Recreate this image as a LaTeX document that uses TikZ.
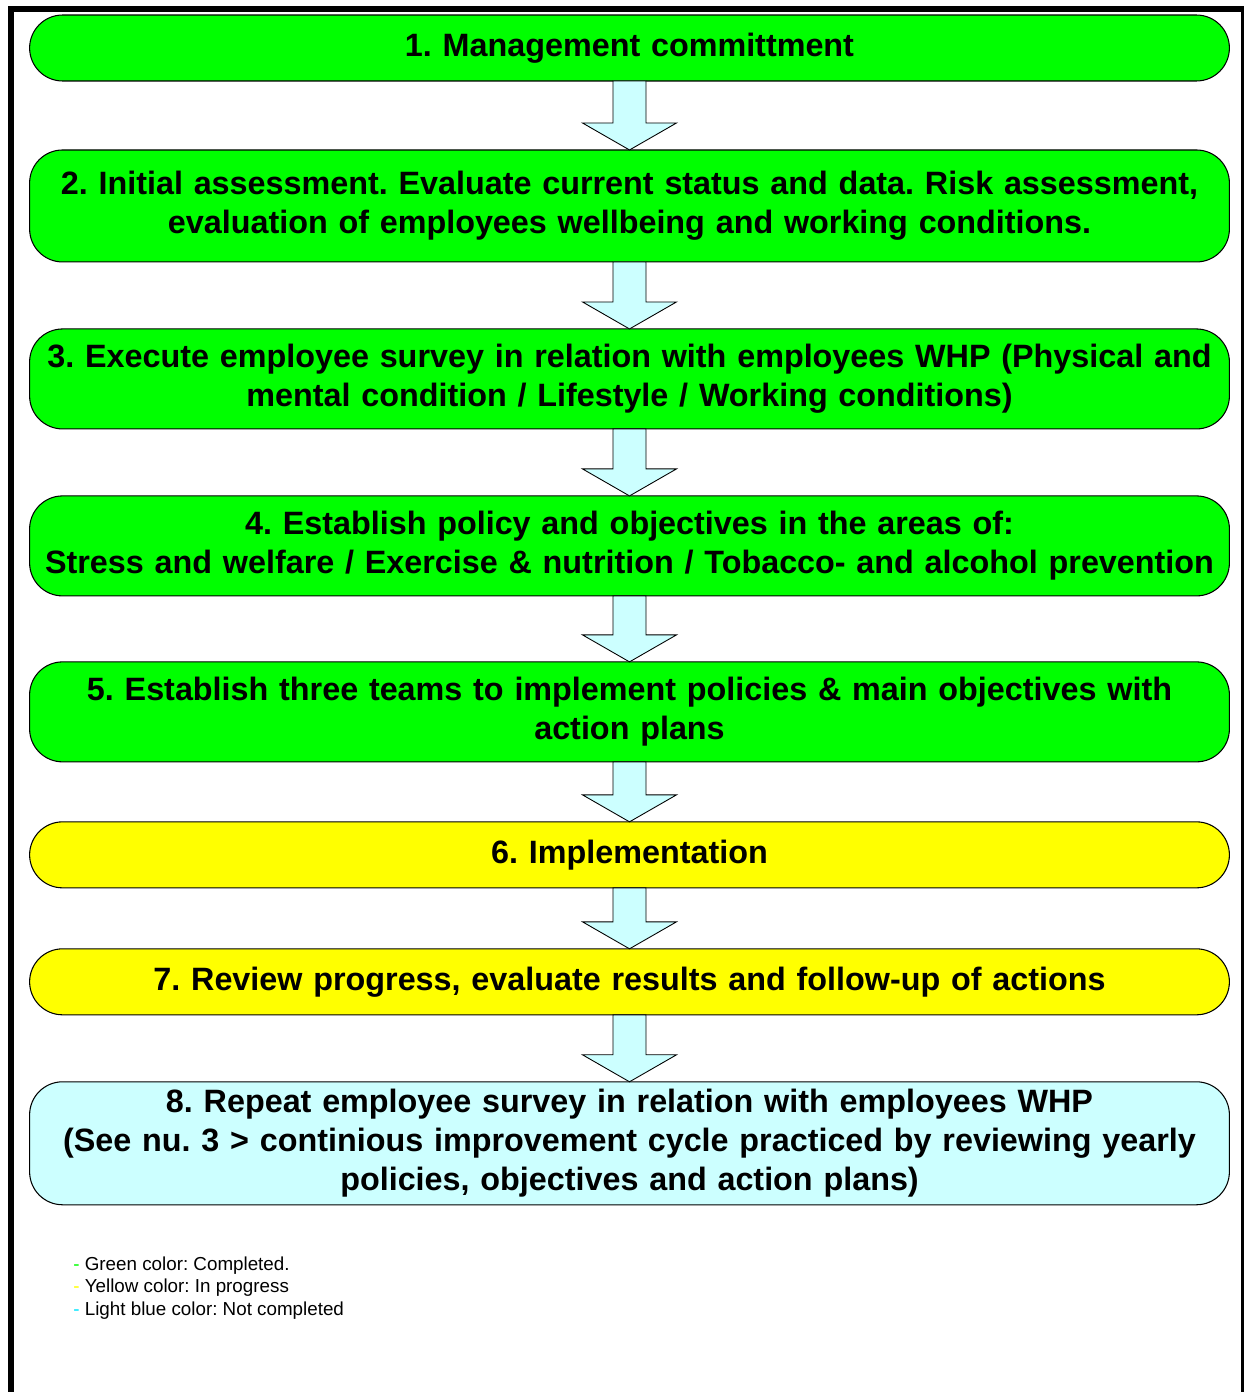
\documentclass[tikz,border=0pt]{standalone}
\usepackage{fontspec}
\setmainfont{Liberation Sans}
\usepackage{xcolor}
\usetikzlibrary{positioning,calc}
\frenchspacing
\definecolor{donegreen}{HTML}{00FF00}
\definecolor{busyyellow}{HTML}{FFFF00}
\definecolor{openblue}{HTML}{CCFFFF}
\definecolor{dashblue}{HTML}{00E5FF}
\tikzset{
  stepbox/.style={draw, line width=0.6pt, rounded corners=0.66cm, align=center, inner sep=0pt, outer sep=0pt, text width=24cm, minimum width=24cm, font=\fontsize{18.4}{22.2}\selectfont\bfseries},
  flowarrow/.style={draw, line width=0.5pt, fill=openblue},
  legendtext/.style={font=\fontsize{10.7}{12.8}\selectfont, align=left, inner sep=0pt}
}
\newcommand{\flowto}[2]{%
  \path[flowarrow] ($(#1.south)+(-16.5,0)$) -- ($(#2.north)+(-16.5,-27)$) -- ($(#2.north)+(-47,-27)$)
    -- (#2.north) -- ($(#2.north)+(47,-27)$) -- ($(#2.north)+(16.5,-27)$) -- ($(#1.south)+(16.5,0)$) -- cycle;}

\begin{document}
\begin{tikzpicture}[x=0.02cm, y=-0.02cm]
  \useasboundingbox (0,0) rectangle (1247,1392);
  % frame
  \draw[line width=0.12cm] (11,1420) -- (11,9) -- (1244,9);
  \draw[line width=0.06cm] (1242.5,9) -- (1242.5,1420);
  % steps
  \node[stepbox, fill=donegreen, minimum height=1.32cm] (step1) at (629.5,48) {1. Management committment};
  \node[stepbox, fill=donegreen, minimum height=2.24cm, below=1.38cm of step1] (step2) {2. Initial assessment. Evaluate current status and data. Risk assessment,\\evaluation of employees wellbeing and working conditions.};
  \node[stepbox, fill=donegreen, minimum height=2cm, below=1.34cm of step2] (step3) {3. Execute employee survey in relation with employees WHP (Physical and\\mental condition / Lifestyle / Working conditions)};
  \node[stepbox, fill=donegreen, minimum height=2cm, below=1.34cm of step3] (step4) {4. Establish policy and objectives in the areas of:\\Stress and welfare / Exercise \& nutrition / Tobacco- and alcohol prevention};
  \node[stepbox, fill=donegreen, minimum height=2cm, below=1.32cm of step4] (step5) {5. Establish three teams to implement policies \& main objectives with\\action plans};
  \node[stepbox, fill=busyyellow, minimum height=1.32cm, below=1.2cm of step5] (step6) {6. Implementation};
  \node[stepbox, fill=busyyellow, minimum height=1.32cm, below=1.22cm of step6] (step7) {7. Review progress, evaluate results and follow-up of actions};
  \node[stepbox, fill=openblue, minimum height=2.46cm, below=1.34cm of step7] (step8) {8. Repeat employee survey in relation with employees WHP\\(See nu. 3 > continious improvement cycle practiced by reviewing yearly\\policies, objectives and action plans)};
  % arrows
  \flowto{step1}{step2}
  \flowto{step2}{step3}
  \flowto{step3}{step4}
  \flowto{step4}{step5}
  \flowto{step5}{step6}
  \flowto{step6}{step7}
  \flowto{step7}{step8}
  % legend
  \node[legendtext, anchor=west] (legend) at (73,1288) {\textcolor{donegreen}{-} Green color: Completed.\\\textcolor{busyyellow}{-} Yellow color: In progress\\\textcolor{dashblue}{-} Light blue color: Not completed};
\end{tikzpicture}
\end{document}
